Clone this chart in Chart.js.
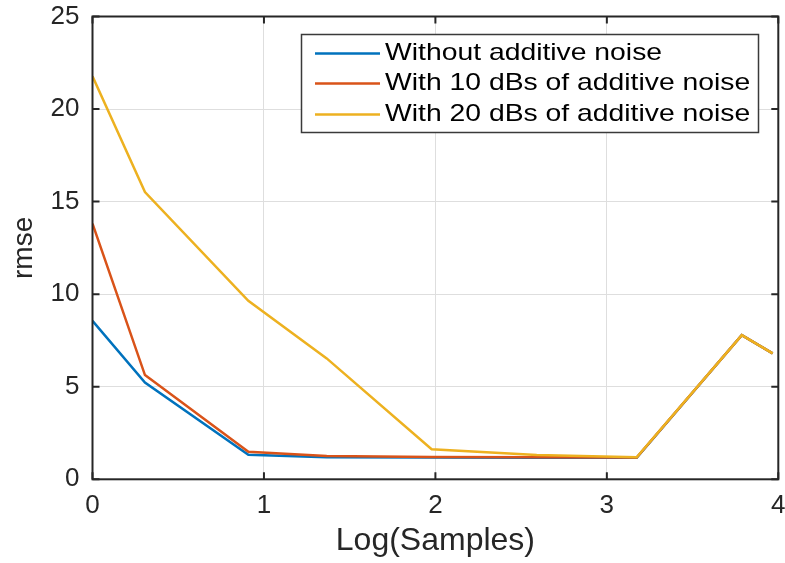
<!DOCTYPE html>
<html><head><meta charset="utf-8">
<script src="https://cdn.jsdelivr.net/npm/chart.js@4.4.1/dist/chart.umd.min.js"></script>
<style>html,body{margin:0;padding:0;background:#fff;}#wrap{width:785px;height:563px;}</style>
</head><body><div id="wrap"><canvas id="c" width="785" height="563"></canvas></div>
<script>
// ---- data ----
const logSamples = [0, 0.306, 0.909, 1.366, 1.978, 2.591, 3.174, 3.787, 3.967];
const rmseNoNoise = [8.56, 5.23, 1.33, 1.19, 1.18, 1.17, 1.16, 7.79, 6.80];
const rmse10dB    = [13.81, 5.63, 1.49, 1.26, 1.21, 1.19, 1.18, 7.79, 6.80];
const rmse20dB    = [21.77, 15.52, 9.64, 6.53, 1.62, 1.31, 1.19, 7.79, 6.80];
const seriesLabels = ['Without additive noise', 'With 10 dBs of additive noise', 'With 20 dBs of additive noise'];
const seriesColors = ['#0072BD', '#D95319', '#EDB120'];
const xTickValues = [0, 1, 2, 3, 4];
const yTickValues = [0, 5, 10, 15, 20, 25];
const xTitle = 'Log(Samples)';
const yTitle = 'rmse';

const toPts = ys => ys.map((v, i) => ({x: logSamples[i], y: v}));
const seriesValues = [rmseNoNoise, rmse10dB, rmse20dB];

const ink = '#262626';

const framePlugin = {
  id: 'frame',
  afterDatasetsDraw(chart) {
    const {ctx, chartArea: a, scales: {x, y}} = chart;
    ctx.save();
    ctx.strokeStyle = ink; ctx.lineWidth = 2;
    ctx.strokeRect(a.left, a.top, a.right - a.left, a.bottom - a.top);
    const L = 7;
    ctx.beginPath();
    x.ticks.forEach(t => {
      const px = x.getPixelForValue(t.value);
      ctx.moveTo(px, a.bottom); ctx.lineTo(px, a.bottom - L);
      ctx.moveTo(px, a.top); ctx.lineTo(px, a.top + L);
    });
    y.ticks.forEach(t => {
      const py = y.getPixelForValue(t.value);
      ctx.moveTo(a.left, py); ctx.lineTo(a.left + L, py);
      ctx.moveTo(a.right, py); ctx.lineTo(a.right - L, py);
    });
    ctx.stroke();
    ctx.restore();
  }
};

const legendPlugin = {
  id: 'boxLegend',
  afterDraw(chart) {
    const {ctx} = chart;
    const bx = 301.5, by = 34.5, bw = 457, bh = 98;
    ctx.save();
    ctx.fillStyle = '#fff';
    ctx.fillRect(bx, by, bw, bh);
    ctx.strokeStyle = '#3a3a3a'; ctx.lineWidth = 1.5;
    ctx.strokeRect(bx, by, bw, bh);
    const rowY = [53.5, 83.5, 114.5];
    chart.data.datasets.forEach((ds, i) => {
      ctx.strokeStyle = ds.borderColor; ctx.lineWidth = 2.5;
      ctx.beginPath(); ctx.moveTo(315, rowY[i]); ctx.lineTo(380, rowY[i]); ctx.stroke();
      ctx.save();
      ctx.translate(385, rowY[i]);
      ctx.scale(1.18, 1);
      ctx.fillStyle = '#000';
      ctx.font = '24px "Liberation Sans", Arial, sans-serif';
      ctx.textBaseline = 'middle';
      ctx.fillText(ds.label, 0, 0);
      ctx.restore();
    });
    ctx.restore();
  }
};

new Chart(document.getElementById('c'), {
  type: 'line',
  data: {
    datasets: seriesValues.map((vals, i) => ({
      label: seriesLabels[i],
      data: toPts(vals),
      borderColor: seriesColors[i],
      backgroundColor: seriesColors[i],
      borderWidth: 2.5,
      pointRadius: 0,
      tension: 0,
      fill: false,
      order: 2 - i
    }))
  },
  options: {
    responsive: false,
    animation: false,
    devicePixelRatio: 1,
    layout: {padding: {left: 0, right: 6.7, top: 16.5, bottom: 0}},
    plugins: {legend: {display: false}, tooltip: {enabled: false}},
    scales: {
      x: {
        type: 'linear', min: 0, max: 4,
        afterBuildTicks: s => { s.ticks = xTickValues.map(v => ({value: v})); },
        afterFit: s => { s.height = 83.7; s.paddingLeft = 0; s.paddingRight = 0; },
        grid: {color: '#dedede', lineWidth: 1, drawTicks: false},
        border: {display: false},
        ticks: {padding: 11, color: ink, font: {family: '"Liberation Sans", Arial, sans-serif', size: 26}},
        title: {display: true, text: xTitle, color: ink, padding: {top: 0, bottom: 3},
          font: {family: '"Liberation Sans", Arial, sans-serif', size: 32}}
      },
      y: {
        type: 'linear', min: 0, max: 25,
        afterBuildTicks: s => { s.ticks = yTickValues.map(v => ({value: v})); },
        afterFit: s => { s.width = 92.5; s.paddingTop = 0; s.paddingBottom = 0; },
        grid: {color: '#dedede', lineWidth: 1, drawTicks: false},
        border: {display: false},
        ticks: {padding: 13, color: ink, font: {family: '"Liberation Sans", Arial, sans-serif', size: 26}},
        title: {display: true, text: yTitle, color: ink, padding: {top: 7, bottom: 0},
          font: {family: '"Liberation Sans", Arial, sans-serif', size: 28}}
      }
    }
  },
  plugins: [framePlugin, legendPlugin]
});
</script>
</body></html>
